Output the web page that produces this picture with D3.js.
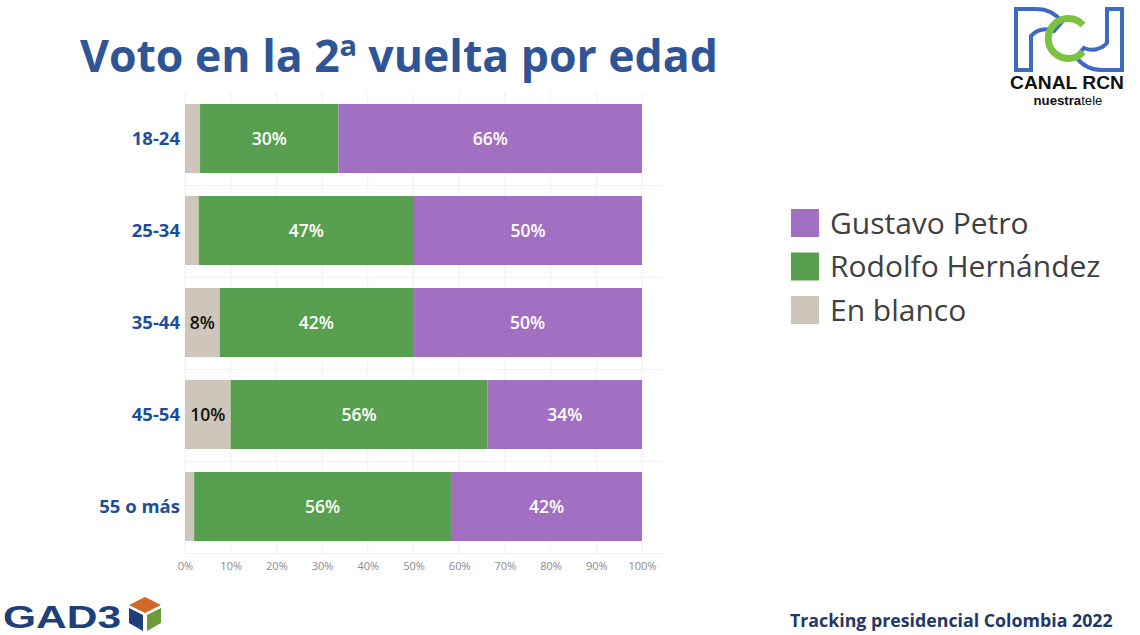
<!DOCTYPE html>
<html><head><meta charset="utf-8">
<script src="https://cdn.jsdelivr.net/npm/d3@7"></script>
<style>body{margin:0;background:#fff;}svg{display:block;}</style>
</head><body>
<svg id="c" width="1140" height="635"></svg>
<script>
const categories = ["18-24","25-34","35-44","45-54","55 o más"];
const blanco = [3.3, 3.0, 7.6, 10.0, 2.0];
const hernandez = [30.3, 47.1, 42.3, 56.2, 56.2];
const petro = [66.4, 49.9, 50.1, 33.8, 41.8];
const tickValues = [0,10,20,30,40,50,60,70,80,90,100];
const seriesNames = ["En blanco","Rodolfo Hernández","Gustavo Petro"];
const legendOrder = ["Gustavo Petro","Rodolfo Hernández","En blanco"];
const colors = {"Gustavo Petro":"#A36FC2","Rodolfo Hernández":"#58A04F","En blanco":"#CEC6BA"};
const labelColors = {"Gustavo Petro":"#fff","Rodolfo Hernández":"#fff","En blanco":"#111"};

const svg = d3.select("#c");
const x = d3.scaleLinear().domain([0,100]).range([185,642]);
const y = d3.scaleBand().domain(categories).range([92.5,552.5]).paddingInner(0.25).paddingOuter(0.125);

function fitWidth(sel, size, target){
  sel.attr("font-size", size);
  const w = sel.node().getComputedTextLength();
  sel.attr("font-size", size*target/w);
  return sel;
}

// gridlines
svg.append("g").selectAll("line").data(tickValues).join("line")
  .attr("x1",d=>x(d)).attr("x2",d=>x(d)).attr("y1",92).attr("y2",553)
  .attr("stroke","#EFEFEF").attr("stroke-width",1);
// horizontal separators
svg.append("g").selectAll("line").data(categories).join("line")
  .attr("x1",x(0)).attr("x2",663)
  .attr("y1",d=>Math.round(y(d)+y.bandwidth()+y.step()*0.125)+0.5)
  .attr("y2",d=>Math.round(y(d)+y.bandwidth()+y.step()*0.125)+0.5)
  .attr("stroke","#F3F3F3");

// stack
const rows = categories.map((c,i)=>({cat:c,"En blanco":blanco[i],"Rodolfo Hernández":hernandez[i],"Gustavo Petro":petro[i]}));
const stack = d3.stack().keys(seriesNames)(rows);
const total = rows.map(r=>seriesNames.reduce((s,k)=>s+r[k],0));
const xs = (v,i)=> x(v/total[i]*100);

const g = svg.append("g");
stack.forEach(layer=>{
  const key = layer.key;
  g.append("g").selectAll("rect").data(layer).join("rect")
    .attr("x",(d,i)=>xs(d[0],i))
    .attr("width",(d,i)=>xs(d[1],i)-xs(d[0],i))
    .attr("y",d=>y(d.data.cat))
    .attr("height",y.bandwidth())
    .attr("fill",colors[key]);
  g.append("g").selectAll("text").data(layer.filter(d=>d[1]-d[0]>=5)).join("text")
    .attr("x",d=>{const i=categories.indexOf(d.data.cat);return (xs(d[0],i)+xs(d[1],i))/2;})
    .attr("y",d=>y(d.data.cat)+y.bandwidth()/2)
    .attr("dy","0.36em")
    .attr("text-anchor","middle")
    .attr("font-family","'Open Sans', sans-serif").attr("font-weight",600)
    .attr("font-size",17.5)
    .attr("fill",labelColors[key])
    .text(d=>Math.round(d[1]-d[0])+"%");
});

// y labels
svg.append("g").selectAll("text").data(categories).join("text")
  .attr("x",180).attr("y",d=>y(d)+y.bandwidth()/2).attr("dy","0.36em")
  .attr("text-anchor","end").attr("font-family","'Open Sans', sans-serif")
  .attr("font-weight",700).attr("font-size",18.5).attr("fill","#1F4E99").text(d=>d);

// x axis
const ax = svg.append("g").attr("transform","translate(0,553)")
  .call(d3.axisBottom(x).tickValues(tickValues).tickFormat(d=>d+"%").tickSize(0).tickPadding(9));
ax.select(".domain").attr("stroke","#EDEDED").attr("d","M"+x(0)+",0.5H663");
ax.selectAll("text").attr("font-family","'Open Sans', sans-serif").attr("font-size",11).attr("fill","#8A8A8A");

// title
const title = svg.append("text").attr("x",80).attr("y",72)
  .attr("font-family","'Open Sans', sans-serif").attr("font-weight",700)
  .attr("fill","#2F5597").text("Voto en la 2ª vuelta por edad");
fitWidth(title,46,638);

// legend
const lg = svg.append("g");
legendOrder.forEach((k,i)=>{
  const cy = 223 + i*43.5;
  lg.append("rect").attr("x",791).attr("y",cy-14).attr("width",28).attr("height",28).attr("fill",colors[k]);
  lg.append("text").attr("x",830).attr("y",cy).attr("dy","0.36em")
    .attr("font-family","'Open Sans', sans-serif").attr("font-size",30).attr("fill","#404040").text(k);
});

// footer
const ft = svg.append("text").attr("x",790).attr("y",627)
  .attr("font-family","'Open Sans', sans-serif").attr("font-weight",700)
  .attr("fill","#1F3864").text("Tracking presidencial Colombia 2022");
fitWidth(ft,16,323);

// GAD3 logo
svg.append("text").attr("transform","translate(3,628) scale(1.33,1)")
  .attr("font-family","'Liberation Sans', Arial, sans-serif").attr("font-weight",700).attr("font-size",32)
  .attr("fill","#1E3F78").text("GAD3");
const cube = svg.append("g").attr("transform","translate(145,614)");
cube.append("path").attr("d","M0,-17 L16,-9 L0,-1 L-16,-9 Z").attr("fill","#D2692A");
cube.append("path").attr("d","M-16,-6 L-2,1 L-2,17 L-16,9 Z").attr("fill","#1F3F7A");
cube.append("path").attr("d","M16,-6 L2,1 L2,17 L16,9 Z").attr("fill","#6B9A3A");

// RCN logo
const rcn = svg.append("g");
const half = "M1016,9 H1036 A32,32 0 0 1 1062,22 L1054,31 A20,20 0 0 0 1031,36 V70 H1016 Z";
rcn.append("path").attr("d",half).attr("fill","#fff").attr("stroke","#3E6BC1").attr("stroke-width",4);
rcn.append("path").attr("d",half).attr("transform","rotate(180,1069,39.5)")
  .attr("fill","#fff").attr("stroke","#3E6BC1").attr("stroke-width",4);
rcn.append("path").attr("d","M1083,25 A20,20 0 1 0 1083,52")
  .attr("fill","none").attr("stroke","#7CC142").attr("stroke-width",7);
const cr = rcn.append("text").attr("x",1067).attr("y",89).attr("text-anchor","middle")
  .attr("font-family","'Liberation Sans', Arial, sans-serif").attr("font-weight",700)
  .attr("fill","#111").text("CANAL RCN");
fitWidth(cr,17,114);
const nt = rcn.append("text").attr("x",1068).attr("y",105).attr("text-anchor","middle")
  .attr("font-family","'Liberation Sans', Arial, sans-serif").attr("fill","#111");
nt.append("tspan").attr("font-weight",700).text("nuestra");
nt.append("tspan").text("tele");
fitWidth(nt,11,69);
</script>
</body></html>
